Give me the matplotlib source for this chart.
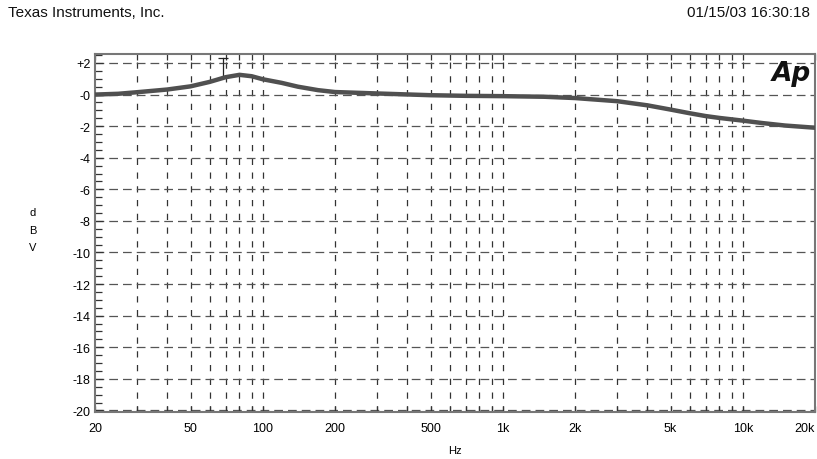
import numpy as np
import matplotlib.pyplot as plt
from matplotlib.ticker import FixedLocator, MultipleLocator, NullFormatter

# frequency response
freq = [20, 25, 30, 40, 50, 60, 70, 80, 90, 100, 120, 140, 170, 200, 300, 500,
        700, 1000, 1500, 2000, 3000, 4000, 5000, 6000, 7000, 8000, 10000,
        12000, 15000, 20000]
dbv = [0.0, 0.05, 0.15, 0.32, 0.52, 0.8, 1.1, 1.25, 1.16, 0.97, 0.74, 0.5,
       0.28, 0.16, 0.07, -0.04, -0.08, -0.1, -0.14, -0.22, -0.42, -0.68,
       -0.95, -1.18, -1.36, -1.48, -1.65, -1.8, -1.96, -2.1]

cursor_hz = 68

xticks = [20, 50, 100, 200, 500, 1000, 2000, 5000, 10000, 20000]
xlabels = ["20", "50", "100", "200", "500", "1k", "2k", "5k", "10k", "20k"]
yticks = list(range(-20, 3, 2))
ylabels = ["-20", "-18", "-16", "-14", "-12", "-10", "-8", "-6", "-4", "-2", "-0", "+2"]

vgrid = [30, 40, 50, 60, 70, 80, 90, 100, 200, 300, 400, 500, 600, 700, 800,
         900, 1000, 2000, 3000, 4000, 5000, 6000, 7000, 8000, 9000, 10000, 20000]

plt.rcParams["font.family"] = ["Liberation Sans", "DejaVu Sans"]

W, H = 817, 460
fig = plt.figure(figsize=(W / 100, H / 100), dpi=100)
ax = fig.add_axes([95 / W, 1 - 413 / H, 720 / W, (413 - 55.3) / H])

ax.set_xscale("log")
ax.set_xlim(20, 20000)
ax.set_ylim(-20.1, 2.55)

for g in vgrid:
    ax.axvline(g, color="#333333", lw=0.9, ls=(0, (5, 6)), zorder=1)
for g in yticks:
    ax.axhline(g, color="#555555", lw=0.9, ls=(0, (7, 4)), zorder=1)

ax.plot(freq, dbv, color="#505050", lw=3.2, solid_capstyle="round", zorder=3)

# cursor marker
cy = np.interp(np.log10(cursor_hz), np.log10(freq), dbv)
ax.plot([cursor_hz, cursor_hz], [2.3, cy], color="#222222", lw=0.9, zorder=2)
ax.plot([cursor_hz], [2.3], marker="_", color="#222222", ms=7, mew=0.9, zorder=2)

ax.xaxis.set_major_locator(FixedLocator(xticks))
ax.set_xticklabels(xlabels)
ax.xaxis.set_minor_locator(FixedLocator(vgrid))
ax.xaxis.set_minor_formatter(NullFormatter())
ax.set_yticks(yticks)
ax.set_yticklabels(ylabels)
ax.yaxis.set_minor_locator(MultipleLocator(0.5))

ax.tick_params(axis="x", which="both", direction="in", top=True, length=4,
               width=0.9, color="#333333", labelsize=9, pad=7)
ax.tick_params(axis="y", which="major", direction="in", length=6, width=0.9,
               color="#333333", labelsize=9, pad=3)
ax.tick_params(axis="y", which="minor", direction="in", length=5, width=0.9,
               color="#333333")
xl = ax.get_xticklabels()
xl[-1].set_horizontalalignment("right")
xl[-1].set_x(xl[-1].get_position()[0])
xl[0].set_horizontalalignment("center")

for s in ax.spines.values():
    s.set_color("#777777")
    s.set_linewidth(1.5)

ax.text(0.995, 0.985, "Ap", transform=ax.transAxes, ha="right", va="top",
        fontsize=19, fontweight="bold", fontstyle="italic", color="#111111",
        family="DejaVu Sans")

fig.text(8 / W, 1 - 13 / H, "Texas Instruments, Inc.", fontsize=11,
         va="center", ha="left", color="#111111")
fig.text(810 / W, 1 - 13 / H, "01/15/03 16:30:18", fontsize=11,
         va="center", ha="right", color="#111111")
fig.text(455 / W, 1 - 451 / H, "Hz", fontsize=8, ha="center", va="center")
for i, ch in enumerate("dBV"):
    fig.text(33 / W, 1 - (213 + 17.5 * i) / H, ch, fontsize=8, ha="center",
             va="center")

fig.savefig("out.png", dpi=100)
